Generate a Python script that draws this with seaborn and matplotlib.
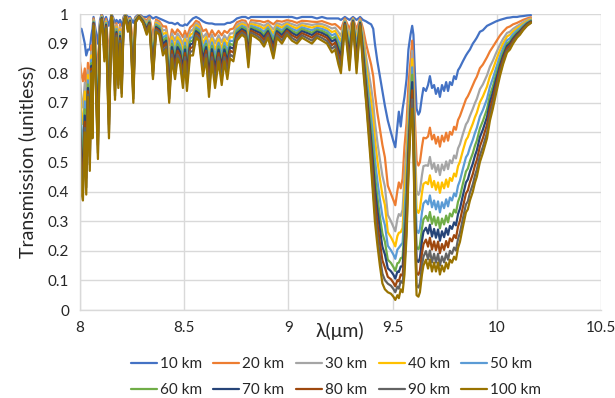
import matplotlib
matplotlib.use("Agg")
import matplotlib.pyplot as plt
import pandas as pd
import seaborn as sns

# Wavelength grid (micrometres)
wavelength_um = [
    8.000, 8.007, 8.014, 8.023, 8.030, 8.038, 8.047, 8.055, 8.060, 8.065,
    8.074, 8.086, 8.096, 8.104, 8.110, 8.117, 8.125, 8.139, 8.151, 8.158,
    8.168, 8.175, 8.184, 8.192, 8.200, 8.209, 8.218, 8.230, 8.240, 8.256,
    8.266, 8.283, 8.302, 8.320, 8.333, 8.350, 8.365, 8.381, 8.398, 8.413,
    8.428, 8.441, 8.456, 8.468, 8.480, 8.494, 8.504, 8.513, 8.528, 8.542,
    8.557, 8.571, 8.590, 8.605, 8.619, 8.633, 8.648, 8.665, 8.680, 8.693,
    8.707, 8.720, 8.736, 8.753, 8.777, 8.794, 8.808, 8.821, 8.845, 8.864,
    8.883, 8.902, 8.928, 8.945, 8.969, 8.993, 9.017, 9.041, 9.065, 9.089,
    9.113, 9.137, 9.161, 9.185, 9.209, 9.224, 9.240, 9.252, 9.271, 9.293,
    9.310, 9.327, 9.344, 9.358, 9.373, 9.384, 9.397, 9.407, 9.415, 9.427,
    9.439, 9.451, 9.463, 9.477, 9.492, 9.504, 9.513, 9.523, 9.530, 9.539,
    9.548, 9.557, 9.567, 9.576, 9.586, 9.594, 9.600, 9.607, 9.615, 9.624,
    9.631, 9.641, 9.648, 9.660, 9.670, 9.679, 9.689, 9.699, 9.708, 9.718,
    9.727, 9.737, 9.747, 9.757, 9.766, 9.775, 9.785, 9.795, 9.804, 9.814,
    9.823, 9.837, 9.852, 9.861, 9.871, 9.885, 9.895, 9.904, 9.919, 9.933,
    9.953, 9.967, 9.981, 9.996, 10.015, 10.030, 10.049, 10.063, 10.078, 10.097,
    10.111, 10.126, 10.145, 10.164,
]

t_10km = [
    .95, .95, .93, .90, .86, .88, .88, .93, .95, .99,
    .95, .90, .98, 1.0, .99, .97, .99, .96, 1.0, .99,
    .97, .98, .97, .98, .96, .99, 1.0, .99, .99, .97,
    .99, 1.0, .99, .99, .995, .985, .99, .985, .98, .975,
    .97, .97, .965, .97, .962, .96, .965, .962, .975, .985,
    .99, .985, .975, .97, .968, .968, .965, .965, .965, .965,
    .97, .97, .975, .985, .99, .99, .985, .99, .99, .99,
    .99, .99, .99, .99, .99, .99, .99, .985, .99, .99,
    .99, .985, .99, .985, .985, .985, .985, .98, .99, .98,
    .99, .98, .99, .98, .975, .97, .965, .95, .90, .84,
    .79, .74, .69, .64, .60, .57, .55, .62, .67, .62,
    .68, .72, .78, .88, .93, .96, .93, .80, .68, .66,
    .67, .72, .75, .74, .76, .79, .75, .76, .73, .75,
    .72, .76, .74, .77, .74, .77, .76, .79, .78, .81,
    .82, .84, .86, .87, .88, .90, .91, .92, .94, .945,
    .96, .965, .97, .975, .98, .983, .987, .988, .99, .99,
    .992, .993, .995, .996,
]

t_20km = [
    .838, .796, .773, .816, .728, .835, .765, .894, .846, .985,
    .923, .791, .969, .996, .981, .947, .983, .854, .998, .983,
    .897, .969, .908, .966, .893, .985, .998, .981, .986, .894,
    .986, .998, .986, .979, .989, .928, .981, .975, .958, .958,
    .894, .948, .932, .948, .938, .922, .943, .922, .954, .963,
    .977, .972, .942, .948, .923, .945, .926, .943, .928, .943,
    .936, .948, .951, .972, .979, .977, .955, .979, .977, .976,
    .972, .977, .965, .977, .974, .979, .976, .970, .977, .976,
    .974, .973, .976, .970, .964, .966, .957, .948, .985, .949,
    .986, .948, .985, .951, .898, .866, .829, .790, .732, .666,
    .611, .558, .516, .420, .393, .371, .354, .403, .431, .411,
    .444, .552, .632, .760, .843, .910, .824, .646, .504, .488,
    .499, .552, .582, .580, .586, .616, .576, .592, .562, .585,
    .552, .589, .569, .599, .572, .602, .592, .619, .609, .642,
    .655, .683, .712, .722, .737, .760, .776, .788, .817, .829,
    .854, .874, .889, .906, .927, .940, .954, .958, .965, .970,
    .975, .980, .985, .989,
]

t_30km = [
    .774, .708, .684, .768, .653, .810, .700, .873, .787, .981,
    .905, .728, .962, .994, .975, .931, .978, .793, .997, .978,
    .856, .962, .873, .956, .854, .981, .997, .975, .984, .851,
    .984, .997, .984, .972, .985, .895, .975, .969, .944, .947,
    .851, .934, .910, .934, .922, .897, .928, .895, .941, .948,
    .969, .963, .920, .934, .894, .930, .901, .928, .904, .928,
    .913, .934, .935, .963, .972, .969, .936, .972, .969, .966,
    .960, .969, .948, .969, .963, .972, .966, .960, .969, .966,
    .963, .966, .966, .960, .951, .954, .939, .926, .981, .929,
    .984, .926, .981, .932, .854, .807, .752, .699, .636, .567,
    .508, .454, .417, .321, .300, .281, .266, .307, .324, .318,
    .339, .456, .547, .691, .794, .876, .763, .558, .403, .389,
    .402, .456, .486, .489, .487, .517, .477, .496, .466, .490,
    .456, .492, .472, .502, .476, .506, .496, .522, .512, .546,
    .560, .594, .627, .637, .656, .680, .699, .713, .746, .762,
    .793, .822, .842, .867, .896, .916, .936, .940, .950, .959,
    .965, .972, .980, .985,
]

t_40km = [
    .734, .653, .628, .738, .606, .794, .659, .860, .750, .978,
    .890, .689, .956, .992, .970, .918, .974, .755, .996, .974,
    .830, .956, .851, .948, .830, .978, .996, .970, .982, .824,
    .982, .996, .982, .966, .981, .874, .970, .963, .932, .937,
    .824, .922, .891, .922, .909, .876, .915, .873, .929, .935,
    .962, .955, .901, .922, .869, .917, .879, .915, .883, .915,
    .894, .922, .921, .955, .966, .962, .919, .966, .962, .958,
    .950, .962, .934, .962, .954, .966, .958, .951, .962, .958,
    .954, .959, .958, .951, .939, .943, .923, .908, .978, .912,
    .982, .908, .978, .916, .827, .770, .703, .642, .576, .505,
    .444, .389, .355, .263, .246, .229, .215, .250, .261, .263,
    .277, .396, .494, .648, .763, .848, .725, .503, .340, .328,
    .341, .396, .426, .432, .425, .455, .415, .436, .406, .431,
    .396, .431, .411, .441, .416, .446, .436, .461, .451, .486,
    .501, .538, .574, .584, .605, .630, .651, .666, .702, .721,
    .755, .790, .813, .843, .877, .900, .924, .930, .941, .952,
    .959, .967, .976, .982,
]

t_50km = [
    .690, .593, .566, .705, .555, .776, .614, .846, .710, .975,
    .875, .647, .950, .990, .965, .905, .970, .713, .995, .970,
    .801, .950, .827, .940, .804, .975, .995, .965, .980, .795,
    .980, .995, .980, .960, .978, .852, .965, .958, .920, .928,
    .795, .910, .873, .910, .896, .855, .903, .851, .918, .923,
    .955, .948, .883, .910, .844, .904, .858, .903, .863, .903,
    .875, .910, .908, .948, .960, .955, .903, .960, .955, .950,
    .940, .955, .920, .955, .945, .960, .950, .943, .955, .950,
    .945, .953, .950, .943, .928, .933, .908, .890, .975, .895,
    .980, .890, .975, .900, .796, .730, .650, .580, .510, .437,
    .374, .318, .287, .217, .202, .187, .173, .204, .210, .219,
    .227, .330, .436, .601, .729, .820, .683, .443, .271, .260,
    .274, .330, .360, .370, .357, .387, .347, .370, .340, .367,
    .330, .364, .344, .374, .350, .380, .370, .394, .384, .420,
    .437, .476, .516, .526, .549, .575, .598, .615, .654, .675,
    .713, .754, .782, .816, .857, .884, .911, .918, .932, .945,
    .952, .962, .972, .979,
]

t_60km = [
    .654, .543, .516, .678, .512, .762, .577, .834, .676, .972,
    .862, .611, .945, .988, .961, .893, .966, .679, .994, .966,
    .778, .945, .807, .933, .782, .972, .994, .961, .978, .770,
    .978, .994, .978, .955, .974, .833, .961, .953, .909, .919,
    .770, .899, .856, .899, .884, .836, .891, .831, .907, .911,
    .949, .941, .866, .899, .822, .892, .838, .891, .844, .891,
    .858, .899, .895, .941, .955, .949, .888, .955, .949, .943,
    .931, .949, .907, .949, .937, .955, .943, .935, .949, .943,
    .937, .947, .943, .935, .917, .923, .894, .874, .972, .880,
    .978, .874, .972, .886, .772, .696, .606, .528, .456, .381,
    .316, .259, .231, .170, .159, .145, .132, .158, .160, .175,
    .178, .276, .388, .562, .701, .795, .649, .393, .214, .205,
    .219, .276, .306, .318, .301, .331, .291, .316, .286, .313,
    .276, .309, .289, .319, .296, .326, .316, .339, .329, .366,
    .383, .426, .468, .478, .503, .530, .555, .572, .614, .638,
    .679, .725, .755, .794, .839, .870, .900, .908, .923, .938,
    .946, .957, .969, .977,
]

t_70km = [
    .626, .505, .476, .657, .479, .750, .548, .825, .650, .970,
    .848, .584, .939, .986, .956, .882, .963, .652, .993, .963,
    .759, .939, .792, .926, .766, .970, .993, .956, .976, .751,
    .976, .993, .976, .949, .971, .819, .956, .948, .898, .910,
    .751, .888, .839, .888, .872, .817, .880, .811, .897, .900,
    .942, .934, .849, .888, .799, .881, .819, .880, .826, .880,
    .841, .888, .883, .934, .949, .942, .873, .949, .942, .936,
    .922, .942, .895, .942, .929, .949, .936, .927, .942, .936,
    .929, .941, .936, .927, .907, .914, .880, .858, .970, .864,
    .976, .858, .970, .871, .752, .670, .572, .488, .414, .338,
    .272, .214, .188, .141, .131, .119, .106, .130, .128, .147,
    .147, .234, .351, .532, .679, .770, .622, .355, .170, .162,
    .176, .234, .264, .278, .258, .288, .248, .274, .244, .272,
    .234, .266, .246, .276, .254, .284, .274, .296, .286, .324,
    .342, .386, .431, .441, .467, .495, .521, .539, .584, .609,
    .652, .702, .735, .777, .826, .859, .892, .901, .917, .933,
    .942, .954, .967, .975,
]

t_80km = [
    .598, .466, .437, .636, .446, .739, .519, .816, .624, .967,
    .833, .557, .933, .984, .951, .869, .959, .626, .992, .959,
    .741, .933, .776, .918, .749, .967, .992, .951, .974, .732,
    .974, .992, .974, .943, .968, .805, .951, .942, .886, .901,
    .732, .876, .821, .876, .859, .796, .868, .789, .885, .888,
    .935, .927, .831, .876, .775, .868, .797, .868, .805, .868,
    .822, .876, .870, .927, .943, .935, .856, .943, .935, .928,
    .912, .935, .881, .935, .920, .943, .928, .919, .935, .928,
    .920, .934, .928, .919, .895, .903, .864, .840, .967, .847,
    .974, .840, .967, .855, .733, .644, .538, .448, .372, .294,
    .227, .168, .144, .112, .104, .092, .080, .101, .097, .120,
    .116, .192, .314, .502, .657, .742, .596, .316, .126, .119,
    .133, .192, .222, .238, .214, .244, .204, .232, .202, .231,
    .192, .223, .203, .233, .212, .242, .232, .253, .243, .282,
    .301, .347, .394, .404, .431, .460, .488, .506, .553, .580,
    .626, .679, .715, .759, .813, .848, .884, .893, .911, .928,
    .937, .951, .964, .973,
]

t_90km = [
    .570, .428, .398, .615, .414, .728, .491, .807, .599, .963,
    .817, .530, .927, .982, .946, .854, .954, .599, .991, .954,
    .723, .927, .761, .909, .732, .963, .991, .946, .972, .714,
    .972, .991, .972, .937, .964, .790, .946, .936, .873, .890,
    .714, .863, .800, .863, .845, .773, .854, .764, .873, .874,
    .928, .918, .810, .863, .747, .854, .774, .854, .783, .854,
    .801, .863, .855, .918, .937, .928, .838, .937, .928, .919,
    .901, .928, .865, .928, .910, .937, .919, .909, .928, .919,
    .910, .927, .919, .909, .883, .892, .847, .820, .963, .829,
    .972, .820, .963, .838, .714, .619, .504, .409, .330, .251,
    .182, .123, .101, .089, .082, .071, .060, .079, .072, .098,
    .091, .150, .277, .472, .636, .711, .569, .278, .082, .076,
    .091, .150, .180, .199, .171, .201, .161, .190, .160, .190,
    .150, .181, .161, .191, .170, .200, .190, .211, .201, .240,
    .260, .308, .357, .367, .396, .425, .454, .474, .522, .551,
    .599, .656, .695, .742, .800, .838, .876, .885, .905, .924,
    .933, .947, .962, .971,
]

t_100km = [
    .55, .40, .37, .60, .39, .72, .47, .80, .58, .96,
    .80, .51, .92, .98, .94, .84, .95, .58, .99, .95,
    .71, .92, .75, .90, .72, .96, .99, .94, .97, .70,
    .97, .99, .97, .93, .96, .78, .94, .93, .86, .88,
    .70, .85, .78, .85, .83, .75, .84, .74, .86, .86,
    .92, .91, .79, .85, .72, .84, .75, .84, .76, .84,
    .78, .85, .84, .91, .93, .92, .82, .93, .92, .91,
    .89, .92, .85, .92, .90, .93, .91, .90, .92, .91,
    .90, .92, .91, .90, .87, .88, .83, .80, .96, .81,
    .97, .80, .96, .82, .70, .60, .48, .38, .30, .22,
    .15, .09, .07, .06, .055, .045, .034, .05, .04, .07,
    .06, .12, .25, .45, .62, .68, .55, .25, .05, .045,
    .06, .12, .15, .17, .14, .17, .13, .16, .13, .16,
    .12, .15, .13, .16, .14, .17, .16, .18, .17, .21,
    .23, .28, .33, .34, .37, .40, .43, .45, .50, .53,
    .58, .64, .68, .73, .79, .83, .87, .88, .90, .92,
    .93, .945, .96, .97,
]

altitudes = ["10 km", "20 km", "30 km", "40 km", "50 km",
             "60 km", "70 km", "80 km", "90 km", "100 km"]
series = [t_10km, t_20km, t_30km, t_40km, t_50km,
          t_60km, t_70km, t_80km, t_90km, t_100km]
colors = ["#4472C4", "#ED7D31", "#A5A5A5", "#FFC000", "#5B9BD5",
          "#70AD47", "#264478", "#9E480E", "#636363", "#997300"]

x_ticks = [8, 8.5, 9, 9.5, 10, 10.5]
x_tick_labels = ["8", "8.5", "9", "9.5", "10", "10.5"]
y_ticks = [0, 0.1, 0.2, 0.3, 0.4, 0.5, 0.6, 0.7, 0.8, 0.9, 1.0]
y_tick_labels = ["0", "0.1", "0.2", "0.3", "0.4", "0.5", "0.6", "0.7", "0.8", "0.9", "1"]

df = pd.concat(
    [pd.DataFrame({"wavelength": wavelength_um, "transmission": vals, "altitude": name})
     for name, vals in zip(altitudes, series)],
    ignore_index=True,
)

sns.set_theme(style="white")
plt.rcParams["font.family"] = ["Lato", "DejaVu Sans"]

W, H = 615, 398
fig = plt.figure(figsize=(W / 100, H / 100), dpi=100)
ax = fig.add_axes([80 / W, 1 - 310 / H, 521 / W, 296 / H])

sns.lineplot(data=df, x="wavelength", y="transmission", hue="altitude",
             hue_order=altitudes, palette=colors, linewidth=1.6,
             estimator=None, sort=False, ax=ax)

ax.set_xlim(8, 10.5)
ax.set_ylim(0, 1)
ax.set_xticks(x_ticks)
ax.set_xticklabels(x_tick_labels)
ax.set_yticks(y_ticks)
ax.set_yticklabels(y_tick_labels)
ax.tick_params(axis="both", length=0, labelsize=11, colors="#262626", pad=8)
ax.grid(True, color="#D9D9D9", linewidth=1.0)
ax.set_axisbelow(True)
for side in ["top", "right"]:
    ax.spines[side].set_visible(False)
for side in ["left", "bottom"]:
    ax.spines[side].set_color("#D9D9D9")
    ax.spines[side].set_linewidth(1.0)

ax.set_xlabel("")
ax.set_ylabel("Transmission (unitless)", fontsize=14, color="#262626", labelpad=8)
fig.text(340 / W, 1 - 331 / H, "λ(μm)", ha="center", va="center",
         fontsize=14, color="#262626")

# Legend laid out row by row: 10-50 km on top, 60-100 km below
handles, labels = ax.get_legend_handles_labels()
ax.get_legend().remove()
ncol = 5
order = [r * ncol + c for c in range(ncol) for r in range(2)]
leg = fig.legend([handles[i] for i in order], [labels[i] for i in order],
                 loc="center", ncol=ncol,
                 bbox_to_anchor=(336 / W, 1 - 377 / H), frameon=False,
                 fontsize=11, handlelength=1.7, handletextpad=0.2,
                 columnspacing=0.75, labelspacing=0.8)
for t in leg.get_texts():
    t.set_color("#262626")
for line in leg.get_lines():
    line.set_linewidth(1.6)

fig.savefig("out.png", dpi=100)
